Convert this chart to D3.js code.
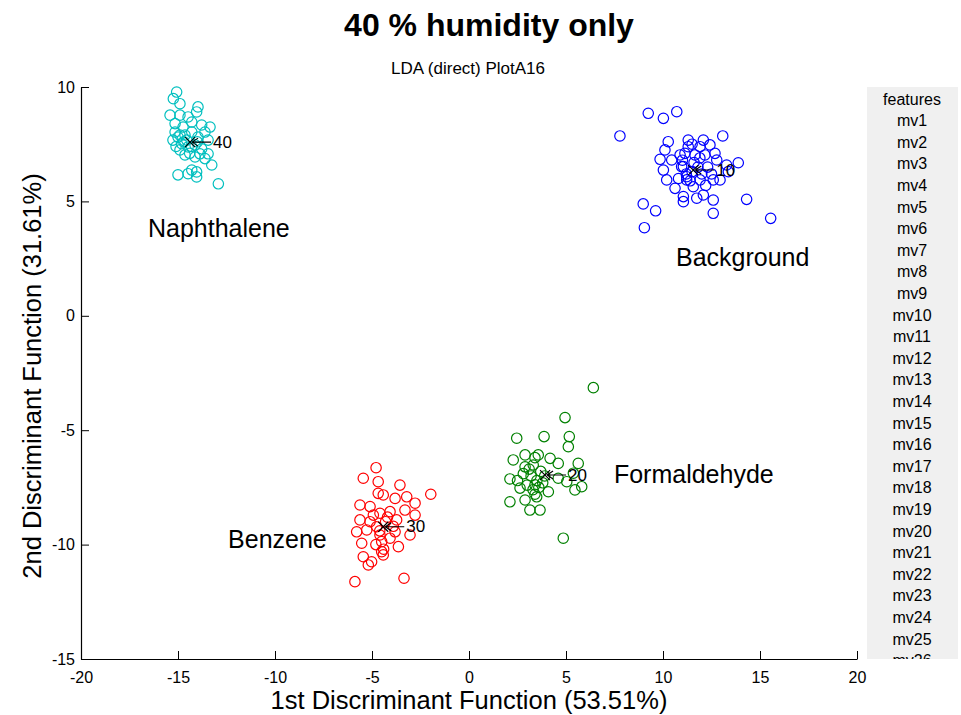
<!DOCTYPE html>
<html lang="en">
<head>
<meta charset="UTF-8">
<title>40 % humidity only</title>
<script src="https://d3js.org/d3.v7.min.js"></script>
<style>
  body { margin: 0; background: #fff; }
  text { font-family: "Liberation Sans", Arial, sans-serif; fill: #000; }
</style>
</head>
<body>
<svg width="961" height="715"></svg>
<script>
// LDA scores, [1st DF, 2nd DF]
const naphthalene = [
  [-15.07,9.78],[-15.24,9.49],[-14.90,9.27],[-15.41,8.77],[-14.90,8.77],[-13.97,9.13],[-14.04,8.91],
  [-14.48,8.69],[-14.29,8.47],[-13.35,8.25],[-15.15,8.40],[-14.74,8.25],[-13.78,8.34],[-15.26,7.68],
  [-15.00,7.81],[-14.64,7.90],[-13.97,7.81],[-13.61,8.03],[-13.45,7.68],[-14.81,7.52],[-14.48,7.38],
  [-14.12,7.47],[-13.78,7.30],[-13.45,7.08],[-14.64,7.03],[-14.12,6.94],[-13.61,6.87],[-13.26,6.59],
  [-14.29,6.37],[-14.04,6.29],[-15.00,6.16],[-14.48,6.21],[-14.04,6.07],[-12.92,5.77],[-15.15,8.03],
  [-14.29,8.03],[-14.55,7.68],[-14.90,7.25],[-13.87,7.08],[-14.70,7.60],[-14.30,7.40],[-14.90,7.90],
  [-14.40,7.10],[-14.00,7.60],[-15.10,7.40]
];
const background = [
  [9.24,8.85],[10.02,8.63],[10.71,8.92],[7.78,7.86],[10.27,7.61],[11.30,7.68],[10.10,7.25],[9.85,6.84],
  [10.45,6.81],[10.88,7.03],[10.02,6.37],[10.19,5.94],[10.62,5.57],[11.05,5.21],[11.05,4.99],[8.98,4.89],
  [9.62,4.59],[9.04,3.85],[10.96,6.52],[11.22,5.94],[13.08,7.86],[11.50,7.50],[12.08,7.68],[11.30,7.39],
  [11.91,7.39],[12.42,7.47],[11.13,7.10],[12.68,7.10],[12.16,7.03],[11.65,7.03],[13.88,6.69],[13.28,6.59],
  [12.77,6.81],[13.37,6.30],[12.59,5.94],[11.91,5.94],[11.22,6.08],[11.56,5.64],[11.74,5.14],[12.08,5.28],
  [12.59,5.06],[12.59,4.48],[14.31,5.09],[15.55,4.26],[12.94,5.94],[11.05,6.52],[11.50,6.30],[11.80,6.50],
  [11.20,6.20],[12.00,6.20],[11.60,6.70],[12.30,6.50],[10.80,6.00],[11.40,5.90],[12.20,5.70],[11.00,6.80],
  [11.90,6.90],[12.50,6.20]
];
const formaldehyde = [
  [6.41,-3.14],[4.95,-4.45],[3.87,-5.28],[5.17,-5.28],[5.12,-5.72],[5.63,-6.45],[3.57,-6.08],[4.18,-6.23],
  [4.60,-6.45],[5.38,-6.88],[5.04,-7.25],[5.46,-7.61],[5.81,-7.47],[4.60,-7.10],[4.09,-7.69],[3.49,-7.91],
  [3.66,-8.49],[4.86,-9.72],[3.31,-6.52],[2.46,-5.35],[2.28,-6.30],[2.89,-6.08],[2.11,-7.13],[2.11,-8.13],
  [3.14,-8.49],[2.89,-6.60],[2.63,-7.53],[2.89,-8.05],[3.40,-6.20],[3.40,-7.39],[3.20,-7.00],[3.50,-7.20],
  [3.00,-7.40],[3.70,-6.80],[3.30,-7.60],[2.80,-6.90],[3.60,-7.50],[3.90,-7.00],[3.10,-6.70],[3.40,-7.80],
  [3.80,-7.30],[2.50,-7.20]
];
const benzene = [
  [-4.79,-6.64],[-5.45,-7.10],[-4.68,-7.25],[-3.56,-7.40],[-4.68,-7.76],[-4.42,-7.83],[-3.81,-7.98],
  [-3.21,-7.91],[-1.97,-7.80],[-2.78,-8.19],[-5.62,-8.27],[-5.10,-8.34],[-3.30,-8.49],[-4.59,-8.63],
  [-2.78,-8.71],[-5.62,-8.92],[-5.10,-9.00],[-3.73,-8.92],[-5.79,-9.44],[-5.27,-9.36],[-3.81,-9.44],
  [-3.04,-9.58],[-4.59,-9.58],[-5.53,-9.94],[-4.50,-9.87],[-3.64,-10.09],[-4.50,-10.31],[-4.42,-10.45],
  [-5.45,-10.53],[-5.02,-10.75],[-5.19,-10.89],[-5.88,-11.62],[-3.35,-11.47],[-4.93,-8.71],[-4.07,-8.56],
  [-4.76,-9.22],[-4.07,-9.72],[-4.30,-9.00],[-4.60,-9.40],[-4.20,-8.80],[-4.80,-10.00],[-3.90,-9.20],
  [-4.40,-10.20]
];

const classNames = ["Naphthalene", "Background", "Formaldehyde", "Benzene"];
const classColors = ["#00bfbf", "#0000ff", "#008000", "#ff0000"];
const classPoints = [naphthalene, background, formaldehyde, benzene];
const centroidTags = ["40", "10", "20", "30"];
const centroids = [[-14.38, 7.59], [11.56, 6.37], [3.92, -6.96], [-4.42, -9.22]];
const labelAnchors = [[-16.55, 3.84], [10.67, 2.57], [7.47, -6.91], [-12.42, -9.76]];

const xTicks = [-20, -15, -10, -5, 0, 5, 10, 15, 20];
const yTicks = [-15, -10, -5, 0, 5, 10];
const features = d3.range(1, 27).map(i => "mv" + i);

const svg = d3.select("svg");
const x = d3.scaleLinear().domain([-20, 20]).range([81, 857]);
const y = d3.scaleLinear().domain([-15, 10]).range([659, 87]);
const fmt = d => String(d); // plain hyphen minus, like the original

// axes (left + bottom only, ticks pointing in)
const xAxis = svg.append("g").attr("transform", "translate(0,659)")
  .call(d3.axisBottom(x).tickValues(xTicks).tickSizeInner(-8).tickSizeOuter(0).tickPadding(10).tickFormat(fmt));
const yAxis = svg.append("g").attr("transform", "translate(81,0)")
  .call(d3.axisLeft(y).tickValues(yTicks).tickSizeInner(-8).tickSizeOuter(0).tickPadding(6).tickFormat(fmt));
[xAxis, yAxis].forEach(g => {
  g.select(".domain").attr("stroke", "#000").attr("stroke-width", 1.2);
  g.selectAll(".tick line").attr("stroke", "#000");
  g.selectAll(".tick text").style("font-family", "'Liberation Sans', Arial, sans-serif")
    .style("font-size", "16px").attr("fill", "#000");
});
xAxis.selectAll(".tick text").attr("dy", "0.85em");

// points
classPoints.forEach((pts, i) => {
  svg.append("g").selectAll("circle")
    .data(pts)
    .enter().append("circle")
    .attr("cx", d => x(d[0]))
    .attr("cy", d => y(d[1]))
    .attr("r", 5.2)
    .attr("fill", "none")
    .attr("stroke", classColors[i])
    .attr("stroke-width", 1.2);
});

// centroid markers with arrow tags
const cg = svg.append("g").selectAll("g")
  .data(centroids)
  .enter().append("g")
  .attr("transform", d => `translate(${x(d[0])},${y(d[1])})`);
cg.append("path").attr("d", "M-5,-5L5,5M-5,5L5,-5").attr("stroke", "#000").attr("stroke-width", 1.1);
cg.append("path").attr("d", "M2,0H21M2,0L8,-4M2,0L8,4").attr("stroke", "#000").attr("fill", "none").attr("stroke-width", 1.1);
cg.append("text")
  .attr("x", 23).attr("y", 0)
  .attr("dominant-baseline", "central")
  .style("font-size", "17px")
  .text((d, i) => centroidTags[i]);

// class names
svg.append("g").selectAll("text")
  .data(labelAnchors)
  .enter().append("text")
  .attr("x", d => x(d[0]))
  .attr("y", d => y(d[1]))
  .attr("dominant-baseline", "central")
  .style("font-size", "25px")
  .text((d, i) => classNames[i]);

// titles
svg.append("text").attr("x", 489).attr("y", 25).attr("text-anchor", "middle")
  .attr("dominant-baseline", "central").style("font-size", "32px").style("font-weight", "bold")
  .text("40 % humidity only");
svg.append("text").attr("x", 468).attr("y", 68).attr("text-anchor", "middle")
  .attr("dominant-baseline", "central").style("font-size", "17px")
  .text("LDA (direct) PlotA16");
svg.append("text").attr("x", 469).attr("y", 700).attr("text-anchor", "middle")
  .attr("dominant-baseline", "central").style("font-size", "25.5px")
  .text("1st Discriminant Function (53.51%)");
svg.append("text").attr("transform", "translate(32,376) rotate(-90)").attr("text-anchor", "middle")
  .attr("dominant-baseline", "central").style("font-size", "25.5px")
  .text("2nd Discriminant Function (31.61%)");

// features list panel
svg.append("clipPath").attr("id", "panelClip")
  .append("rect").attr("x", 867).attr("y", 87).attr("width", 91).attr("height", 572);
svg.append("rect").attr("x", 867).attr("y", 87).attr("width", 91).attr("height", 572).attr("fill", "#f0f0f0");
svg.append("g").attr("clip-path", "url(#panelClip)").selectAll("text")
  .data(["features"].concat(features))
  .enter().append("text")
  .attr("x", 912)
  .attr("y", (d, i) => 99 + i * 21.6)
  .attr("text-anchor", "middle")
  .attr("dominant-baseline", "central")
  .style("font-size", "16px")
  .attr("fill", "#111")
  .text(d => d);
</script>
</body>
</html>
